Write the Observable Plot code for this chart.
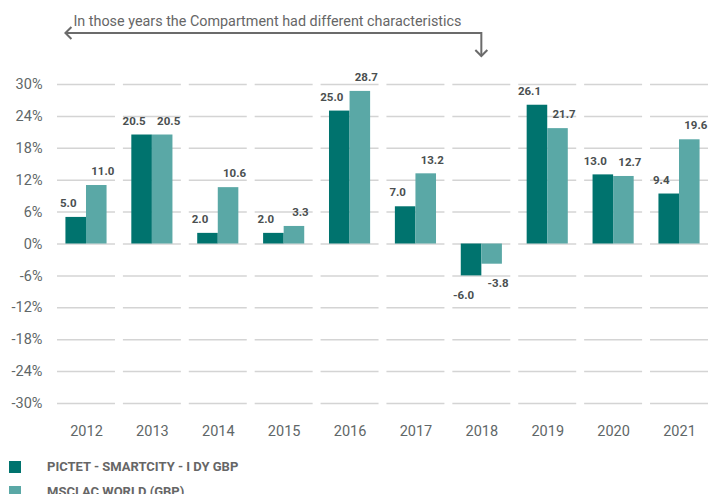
<!DOCTYPE html>
<html>
<head>
<meta charset="utf-8">
<script src="https://cdn.jsdelivr.net/npm/d3@7"></script>
<script src="https://cdn.jsdelivr.net/npm/@observablehq/plot@0.6"></script>
<style>
  html, body { margin: 0; padding: 0; background: #fff; }
  body { width: 708px; height: 494px; overflow: hidden; font-family: Roboto, "Liberation Sans", sans-serif; }
  #legend { padding-top: 8px; }
  .row { display: flex; align-items: center; height: 25px; }
  .sw { width: 12px; height: 12px; margin-left: 9px; margin-right: 26px; }
  .lab { font-weight: bold; font-size: 13px; color: #666; }
</style>
</head>
<body>
<div id="chart"></div>
<div id="legend"></div>
<script>
const years = [2012, 2013, 2014, 2015, 2016, 2017, 2018, 2019, 2020, 2021];
const fundName = "PICTET - SMARTCITY - I DY GBP";
const indexName = "MSCI AC WORLD (GBP)";
const fundValues = [5.0, 20.5, 2.0, 2.0, 25.0, 7.0, -6.0, 26.1, 13.0, 9.4];
const indexValues = [11.0, 20.5, 10.6, 3.3, 28.7, 13.2, -3.8, 21.7, 12.7, 19.6];
const yTicks = [-30, -24, -18, -12, -6, 0, 6, 12, 18, 24, 30];
const seriesNames = [fundName, indexName];
const seriesColors = ["#00736e", "#5aa8a6"];
const annotationText = "In those years the Compartment had different characteristics";
const annotationFrom = 2012, annotationTo = 2018;

const data = [];
years.forEach((y, i) => {
  data.push({year: y, series: fundName, value: fundValues[i]});
  data.push({year: y, series: indexName, value: indexValues[i]});
});

function labels(series, dx) {
  const common = {x: "series", y: "value", fx: "year", text: d => d.value.toFixed(1),
    dx, fill: "#4a4f50", fontWeight: "bold", fontSize: 11.5};
  return [
    Plot.text(data.filter(d => d.series === series && d.value >= 0), {...common, dy: -14}),
    Plot.text(data.filter(d => d.series === series && d.value < 0), {...common, dy: 19})
  ];
}

const chart = Plot.plot({
  width: 708,
  height: 446,
  marginTop: 84,
  marginBottom: 43,
  marginLeft: 57,
  marginRight: 0,
  style: {fontFamily: "Roboto, 'Liberation Sans', sans-serif", background: "#fff"},
  fx: {domain: years, paddingInner: 0.12, paddingOuter: 0, round: false, label: null},
  x: {domain: seriesNames, paddingInner: 0, paddingOuter: 0.41, round: false, axis: null, label: null},
  y: {domain: [-30, 30], label: null},
  color: {domain: seriesNames, range: seriesColors},
  marks: [
    Plot.gridY(yTicks, {stroke: "#d4d4d4", strokeOpacity: 1, strokeWidth: 1.5}),
    Plot.barY(data, {x: "series", y: "value", fx: "year", fill: "series"}),
    ...labels(fundName, -8),
    ...labels(indexName, 6),
    Plot.axisY(yTicks, {tickSize: 0, tickPadding: 15, tickFormat: d => d + "%", fontSize: 14.5, fill: "#5f6768", label: null}),
    Plot.axisFx({anchor: "bottom", tickSize: 0, tickPadding: 22, tickFormat: d => String(d), fontSize: 14.5, fill: "#5f6768", label: null})
  ]
});
document.getElementById("chart").appendChild(chart);

// annotation arrow, positioned from the plot's scales
const fx = chart.scale("fx");
const xs = chart.scale("x");
const x0 = fx.apply(annotationFrom) + (fx.bandwidth - 2 * xs.bandwidth) / 2;
const x1 = fx.apply(annotationTo) + fx.bandwidth / 2;
const g = d3.select(chart).append("g")
  .attr("fill", "none").attr("stroke", "#6b6b6b").attr("stroke-width", 2);
const yLine = 33, yTip = 56, ah = 6;
g.append("path").attr("d", `M${x0},${yLine}H${x1}V${yTip}`);
g.append("path").attr("d", `M${x0 + ah},${yLine - ah}L${x0},${yLine}L${x0 + ah},${yLine + ah}`);
g.append("path").attr("d", `M${x1 - ah},${yTip - ah}L${x1},${yTip}L${x1 + ah},${yTip - ah}`);
d3.select(chart).append("text")
  .attr("x", x0 + 8).attr("y", 26)
  .attr("text-anchor", "start")
  .attr("textLength", 388).attr("lengthAdjust", "spacingAndGlyphs")
  .attr("font-size", 15).attr("fill", "#666")
  .text(annotationText);

// legend
const legend = d3.select("#legend");
seriesNames.forEach((s, i) => {
  const row = legend.append("div").attr("class", "row");
  row.append("div").attr("class", "sw").style("background", seriesColors[i]);
  row.append("div").attr("class", "lab").text(s);
});
</script>
</body>
</html>
